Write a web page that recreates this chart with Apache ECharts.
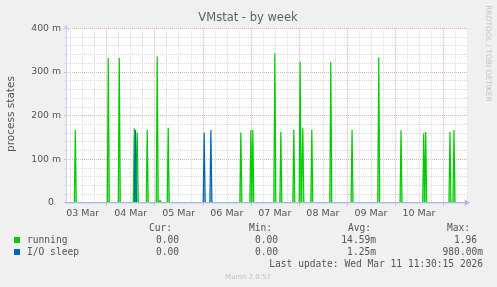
<!DOCTYPE html>
<html>
<head>
<meta charset="utf-8">
<script src="https://cdn.jsdelivr.net/npm/echarts@6/dist/echarts.min.js"></script>
<style>
html,body{margin:0;padding:0;background:#f0f0f0;}
#chart{width:497px;height:287px;}
</style>
</head>
<body>
<div id="chart"></div>
<script>
// x values: hours since 03 Mar 00:00
const runningHours = [8.33, 24.80, 30.29, 37.78, 39.27, 44.26, 49.25, 50.75, 54.74, 91.03, 96.02, 97.02, 108.0, 111.0, 117.49, 120.63, 121.98, 126.47, 135.95, 146.58, 159.91, 171.04, 172.53, 182.37, 183.37, 195.49, 197.49];
const runningValues = [167, 332, 332, 171, 161, 167, 336, 5, 172, 161, 167, 167, 343, 162, 167, 323, 172, 167, 323, 167, 333, 167, 4, 159, 162, 162, 167];
const ioHours = [38.37, 72.71, 73.56, 76.06];
const ioValues = [167, 161, 3, 167];

const dayHours = [24, 48, 72, 96, 120, 144, 168, 192];
const sixHourHours = [6, 12, 18, 30, 36, 42, 54, 60, 66, 78, 84, 90, 102, 108, 114, 126, 132, 138, 150, 156, 162, 174, 180, 186, 198, 204];
const labelHours = [12, 36, 60, 84, 108, 132, 156, 180];
const xLabels = ['03 Mar', '04 Mar', '05 Mar', '06 Mar', '07 Mar', '08 Mar', '09 Mar', '10 Mar'];
const yTicks = [0, 100, 200, 300, 400];

const legendNames = ['running', 'I/O sleep'];
const legendColors = ['#00cc00', '#0066b3'];
const curVals = ['0.00', '0.00'];
const minVals = ['0.00', '0.00'];
const avgVals = ['14.59m', '1.25m'];
const maxVals = ['1.96', '980.00m'];
const lastUpdate = 'Last update: Wed Mar 11 11:30:15 2026';

const X_MIN = 3.68, X_MAX = 204.5;

function spikes(hours, values) {
  const d = [[X_MIN, 0]];
  for (let i = 0; i < hours.length; i++) {
    d.push([hours[i] - 0.5, 0]);
    d.push([hours[i], values[i]]);
    d.push([hours[i] + 0.5, 0]);
  }
  d.push([X_MAX, 0]);
  return d;
}

const chart = echarts.init(document.getElementById('chart'), null, {renderer: 'canvas'});
const mono = '"DejaVu Sans Mono", monospace';
const sans = '"DejaVu Sans", sans-serif';
const txtColor = '#555555';

const graphic = [
  {type: 'text', x: 248, y: 18, style: {text: 'VMstat - by week', font: '11.5px ' + sans, fill: '#606060', align: 'center', verticalAlign: 'middle'}},
  {type: 'text', x: 11, y: 114, rotation: Math.PI / 2, style: {text: 'process states', font: '10.5px ' + sans, fill: txtColor, align: 'center', verticalAlign: 'middle'}},
  {type: 'text', x: 488, y: 53.5, rotation: -Math.PI / 2, style: {text: 'RRDTOOL / TOBI OETIKER', font: '7.5px ' + sans, fill: '#c4c4c4', align: 'center', verticalAlign: 'middle'}},
  {type: 'text', x: 149, y: 228, style: {text: 'Cur:', font: '9.6px ' + mono, fill: txtColor, align: 'left', verticalAlign: 'middle'}},
  {type: 'text', x: 249, y: 228, style: {text: 'Min:', font: '9.6px ' + mono, fill: txtColor, align: 'left', verticalAlign: 'middle'}},
  {type: 'text', x: 348, y: 228, style: {text: 'Avg:', font: '9.6px ' + mono, fill: txtColor, align: 'left', verticalAlign: 'middle'}},
  {type: 'text', x: 447, y: 228, style: {text: 'Max:', font: '9.6px ' + mono, fill: txtColor, align: 'left', verticalAlign: 'middle'}},
  {type: 'text', x: 483, y: 264, style: {text: lastUpdate, font: '9.6px ' + mono, fill: txtColor, align: 'right', verticalAlign: 'middle'}},
  {type: 'text', x: 248, y: 277, style: {text: 'Munin 2.0.57', font: '7px ' + sans, fill: '#c0c0c0', align: 'center', verticalAlign: 'middle'}}
];
const rowY = [240, 252];
for (let i = 0; i < legendNames.length; i++) {
  const y = rowY[i];
  graphic.push({type: 'rect', shape: {x: 14, y: y - 3, width: 6, height: 6}, style: {fill: legendColors[i]}});
  graphic.push({type: 'text', x: 27, y: y, style: {text: legendNames[i], font: '9.6px ' + mono, fill: txtColor, align: 'left', verticalAlign: 'middle'}});
  graphic.push({type: 'text', x: 179, y: y, style: {text: curVals[i], font: '9.6px ' + mono, fill: txtColor, align: 'right', verticalAlign: 'middle'}});
  graphic.push({type: 'text', x: 278, y: y, style: {text: minVals[i], font: '9.6px ' + mono, fill: txtColor, align: 'right', verticalAlign: 'middle'}});
  graphic.push({type: 'text', x: 376, y: y, style: {text: avgVals[i], font: '9.6px ' + mono, fill: txtColor, align: 'right', verticalAlign: 'middle'}});
  const mv = maxVals[i];
  graphic.push({type: 'text', x: /m$/.test(mv) ? 483 : 477, y: y, style: {text: mv, font: '9.6px ' + mono, fill: txtColor, align: 'right', verticalAlign: 'middle'}});
}

const majorColor = '#eab0b0';
const minorColor = '#d9d9d9';

chart.setOption({
  animation: false,
  backgroundColor: '#f0f0f0',
  grid: {left: 66, right: 29, top: 28.3, bottom: 84.3, show: true, backgroundColor: '#ffffff', borderWidth: 0, containLabel: false},
  xAxis: {
    type: 'value', min: X_MIN, max: X_MAX, z: 3,
    axisLine: {show: true, lineStyle: {color: '#a8b6e6', width: 1}, symbol: ['none', 'arrow'], symbolSize: [5, 6], symbolOffset: [0, 2]},
    axisTick: {show: true, customValues: dayHours, length: 3, lineStyle: {color: majorColor}},
    axisLabel: {customValues: labelHours, margin: 6, fontFamily: 'DejaVu Sans', fontSize: 9.5, color: txtColor,
      formatter: function (v) { const i = labelHours.indexOf(Math.round(v)); return i >= 0 ? xLabels[i] : ''; }},
    splitLine: {show: false}
  },
  yAxis: {
    type: 'value', min: 0, max: 400, interval: 100,
    axisLine: {show: true, lineStyle: {color: '#c8d0f0', width: 1}, symbol: ['none', 'arrow'], symbolSize: [5, 6], symbolOffset: [0, 4]},
    axisTick: {show: true, length: 2, lineStyle: {color: majorColor}},
    minorTick: {show: true, splitNumber: 5, length: 2, lineStyle: {color: minorColor}},
    axisLabel: {margin: 5, fontFamily: 'DejaVu Sans', fontSize: 9.3, color: txtColor,
      formatter: function (v) { return v === yTicks[0] ? '{z|0}' : v + ' m'; },
      rich: {z: {padding: [0, 7, 0, 0], fontFamily: 'DejaVu Sans', fontSize: 9.3, color: txtColor}}},
    splitLine: {show: true, lineStyle: {color: majorColor, type: [1, 1], width: 1}},
    minorSplitLine: {show: true, lineStyle: {color: minorColor, type: [1, 1], width: 1}}
  },
  graphic: graphic,
  series: [
    {
      type: 'line', name: 'grid', z: 1, silent: true, showSymbol: false, data: [[X_MIN, 0]],
      lineStyle: {opacity: 0},
      markLine: {
        silent: true, symbol: 'none', z: 1, animation: false, label: {show: false},
        data: sixHourHours.map(h => ({xAxis: h, lineStyle: {color: minorColor, type: [1, 1], width: 1}}))
          .concat(dayHours.map(h => ({xAxis: h, lineStyle: {color: majorColor, type: [1, 1], width: 1}})))
      }
    },
    {
      type: 'line', name: legendNames[0], z: 2, showSymbol: false, silent: true,
      data: spikes(runningHours, runningValues),
      lineStyle: {color: legendColors[0], width: 1.2},
      areaStyle: {color: legendColors[0], opacity: 0.45}
    },
    {
      type: 'line', name: legendNames[1], z: 2, showSymbol: false, silent: true,
      data: spikes(ioHours, ioValues),
      lineStyle: {color: legendColors[1], width: 1.2},
      areaStyle: {color: legendColors[1], opacity: 0.45}
    }
  ]
});
</script>
</body>
</html>
